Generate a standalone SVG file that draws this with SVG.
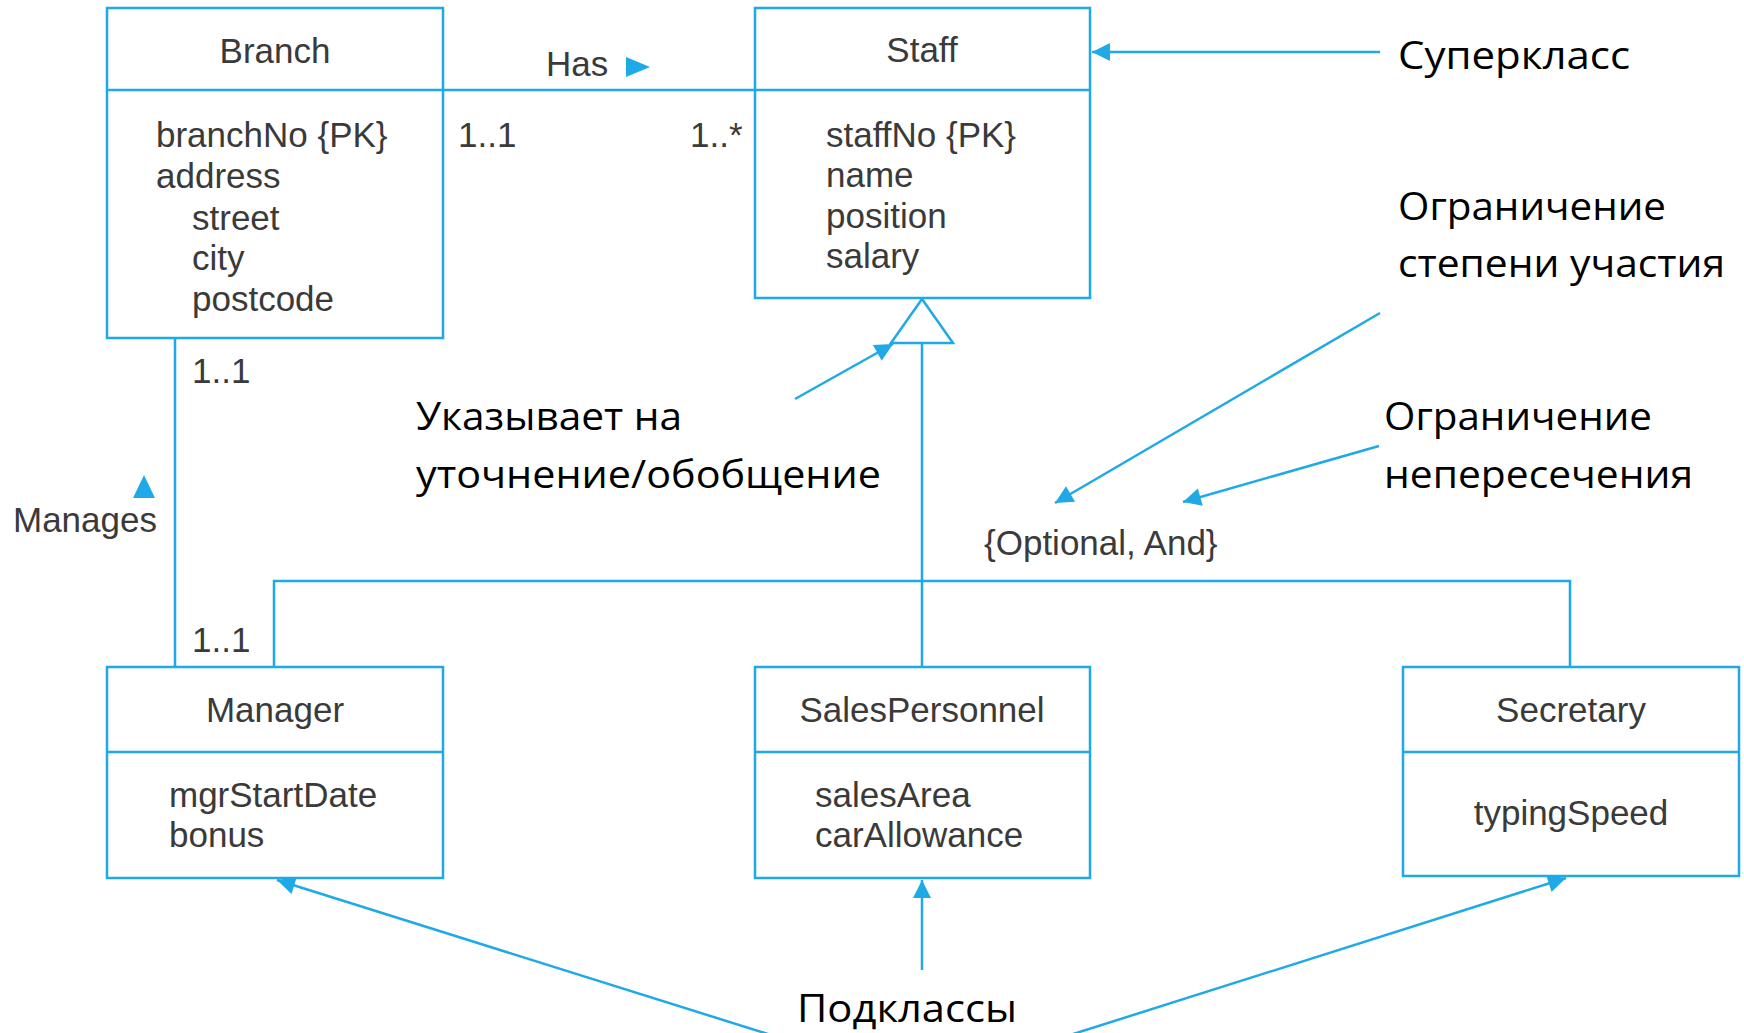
<svg xmlns="http://www.w3.org/2000/svg" width="1744" height="1033" viewBox="0 0 1744 1033">
  <style>
    .box { fill: #ffffff; stroke: #1fa9e6; stroke-width: 2.5; }
    .div { stroke: #1fa9e6; stroke-width: 2.5; }
    .conn { stroke: #1fa9e6; stroke-width: 2.5; fill: none; }
    .note { stroke: #1fa9e6; stroke-width: 2.5; fill: none; marker-end: url(#tip); }
    .uml { font-family: "Liberation Sans", Arial, sans-serif; font-size: 35px; fill: #3a3a3a; }
    .mid { text-anchor: middle; }
    .ann { font-family: "Open Sans", "Noto Sans", sans-serif; font-size: 39px; fill: #000000; }
    .fillblue { fill: #1fa9e6; }
  </style>
  <defs>
    <marker id="tip" viewBox="0 0 10 10" refX="10" refY="5" markerWidth="26" markerHeight="18" markerUnits="userSpaceOnUse" orient="auto">
      <path d="M0,0 L10,5 L0,10 z" fill="#1fa9e6"/>
    </marker>
  </defs>

  <rect width="1744" height="1033" fill="#ffffff"/>

  <!-- associations, generalization tree and annotation pointers -->
  <g id="connectors">
    <line class="conn" x1="443" y1="90" x2="755" y2="90"/>
    <polygon class="fillblue" points="626,57 650,67 626,77"/>
    <line class="conn" x1="175" y1="338" x2="175" y2="667"/>
    <polygon class="fillblue" points="144,475 133,498 155,498"/>

    <line class="conn" x1="922" y1="343" x2="922" y2="667"/>
    <polyline class="conn" points="274,667 274,581 1570,581 1570,667"/>
    <polygon points="922,299 891,343 953,343" fill="#ffffff" stroke="#1fa9e6" stroke-width="2.5"/>

    <line class="note" x1="1380" y1="52" x2="1092" y2="52"/>
    <line class="note" x1="1380" y1="313" x2="1055" y2="503"/>
    <line class="note" x1="1379" y1="446" x2="1183" y2="502"/>
    <line class="note" x1="795" y1="399" x2="893" y2="344"/>
    <line class="note" x1="771" y1="1035" x2="277" y2="880"/>
    <line class="note" x1="922" y1="970" x2="922" y2="880"/>
    <line class="note" x1="1070" y1="1035" x2="1566" y2="878"/>
  </g>

  <g id="branch">
    <rect class="box" x="107" y="8" width="336" height="330"/>
    <line class="div" x1="107" y1="90" x2="443" y2="90"/>
    <text class="uml mid" x="275" y="63">Branch</text>
    <text class="uml" x="156" y="147">branchNo {PK}</text>
    <text class="uml" x="156" y="188">address</text>
    <text class="uml" x="192" y="230">street</text>
    <text class="uml" x="192" y="270">city</text>
    <text class="uml" x="192" y="311">postcode</text>
  </g>

  <g id="staff">
    <rect class="box" x="755" y="8" width="335" height="290"/>
    <line class="div" x1="755" y1="90" x2="1090" y2="90"/>
    <text class="uml mid" x="922" y="62">Staff</text>
    <text class="uml" x="826" y="147">staffNo {PK}</text>
    <text class="uml" x="826" y="187">name</text>
    <text class="uml" x="826" y="228">position</text>
    <text class="uml" x="826" y="268">salary</text>
  </g>

  <g id="manager">
    <rect class="box" x="107" y="667" width="336" height="211"/>
    <line class="div" x1="107" y1="752" x2="443" y2="752"/>
    <text class="uml mid" x="275" y="722">Manager</text>
    <text class="uml" x="169" y="807">mgrStartDate</text>
    <text class="uml" x="169" y="847">bonus</text>
  </g>

  <g id="salespersonnel">
    <rect class="box" x="755" y="667" width="335" height="211"/>
    <line class="div" x1="755" y1="752" x2="1090" y2="752"/>
    <text class="uml mid" x="922" y="722">SalesPersonnel</text>
    <text class="uml" x="815" y="807">salesArea</text>
    <text class="uml" x="815" y="847">carAllowance</text>
  </g>

  <g id="secretary">
    <rect class="box" x="1403" y="667" width="336" height="209"/>
    <line class="div" x1="1403" y1="752" x2="1739" y2="752"/>
    <text class="uml mid" x="1571" y="722">Secretary</text>
    <text class="uml mid" x="1571" y="825">typingSpeed</text>
  </g>

  <!-- association labels and multiplicities -->
  <g id="labels">
    <text class="uml" x="546" y="76">Has</text>
    <text class="uml" x="458" y="147">1..1</text>
    <text class="uml" x="690" y="147">1..*</text>
    <text class="uml" x="192" y="383">1..1</text>
    <text class="uml" x="13" y="532">Manages</text>
    <text class="uml" x="192" y="652">1..1</text>
    <text class="uml" x="984" y="555">{Optional, And}</text>
  </g>

  <!-- explanatory captions -->
  <g id="captions">
    <text class="ann" x="1398" y="69" textLength="232" lengthAdjust="spacingAndGlyphs">Суперкласс</text>
    <text class="ann" x="1398" y="220" textLength="268" lengthAdjust="spacingAndGlyphs">Ограничение</text>
    <text class="ann" x="1398" y="277" textLength="327" lengthAdjust="spacingAndGlyphs">степени участия</text>
    <text class="ann" x="416" y="430" textLength="266" lengthAdjust="spacingAndGlyphs">Указывает на</text>
    <text class="ann" x="416" y="488" textLength="465" lengthAdjust="spacingAndGlyphs">уточнение/обобщение</text>
    <text class="ann" x="1384" y="430" textLength="268" lengthAdjust="spacingAndGlyphs">Ограничение</text>
    <text class="ann" x="1384" y="488" textLength="309" lengthAdjust="spacingAndGlyphs">непересечения</text>
    <text class="ann" x="797" y="1022" textLength="220" lengthAdjust="spacingAndGlyphs">Подклассы</text>
  </g>
</svg>
